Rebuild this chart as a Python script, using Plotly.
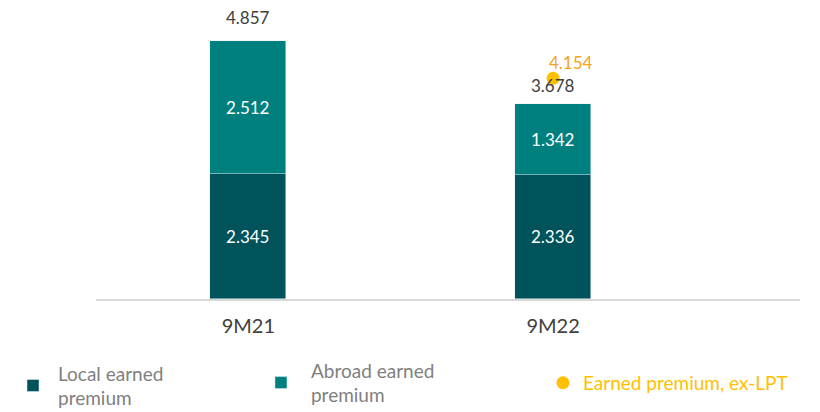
import plotly.graph_objects as go

categories = ["9M21", "9M22"]
local_premium = [2.345, 2.336]
abroad_premium = [2.512, 1.342]
total_premium = [4.857, 3.678]
ex_lpt_cat = ["9M22"]
ex_lpt = [4.154]

FONT = "Lato, 'Open Sans', sans-serif"
DARK = "#00535B"
TEAL = "#007F7F"
GOLD = "#FFC000"

fig = go.Figure()
fig.add_trace(go.Bar(
    x=categories, y=local_premium, name="Local earned<br>premium",
    marker=dict(color=DARK), width=0.25, showlegend=True,
    text=[f"{v:.3f}" for v in local_premium], textposition="inside",
    insidetextanchor="middle", textfont=dict(color="white", size=17, family=FONT),
    legend="legend",
))
fig.add_trace(go.Bar(
    x=categories, y=abroad_premium, name="Abroad earned<br>premium",
    marker=dict(color=TEAL), width=0.25, showlegend=True,
    text=[f"{v:.3f}" for v in abroad_premium], textposition="inside",
    insidetextanchor="middle", textfont=dict(color="white", size=17, family=FONT),
    legend="legend2",
))
fig.add_trace(go.Scatter(
    x=ex_lpt_cat, y=ex_lpt, mode="markers", name="Earned premium, ex-LPT",
    marker=dict(color=GOLD, size=13), showlegend=True,
    legend="legend3", cliponaxis=False,
))

# total labels above the stacks
for cat, tot, shift in zip(categories, total_premium, [23, 18]):
    fig.add_annotation(x=cat, y=tot, text=f"{tot:.3f}", showarrow=False,
                       yanchor="middle", yshift=shift, height=17, borderpad=0,
                       font=dict(color="#404040", size=17, family=FONT))
# ex-LPT label
for cat, v in zip(ex_lpt_cat, ex_lpt):
    fig.add_annotation(x=cat, y=v, text=f"{v:.3f}", showarrow=False,
                       yanchor="middle", yshift=16, xshift=18, height=17, borderpad=0,
                       font=dict(color="#F5A31C", size=17, family=FONT))

leg_common = dict(orientation="v", yanchor="middle", xanchor="left",
                  xref="container", yref="container",
                  font=dict(size=19, color="#808080", family=FONT),
                  bgcolor="rgba(0,0,0,0)", valign="middle")

fig.update_layout(
    width=820, height=412,
    showlegend=True,
    margin=dict(l=88, r=28, t=0, b=121, autoexpand=False),
    paper_bgcolor="white", plot_bgcolor="white",
    barmode="stack", bargap=0,
    font=dict(family=FONT),
    xaxis=dict(type="category", range=[-0.5, 1.81], showgrid=False,
               showline=True, linecolor="#D9D9D9", linewidth=2,
               tickfont=dict(size=20, color="#404040", family=FONT),
               ticks="", ticklabelstandoff=8),
    yaxis=dict(range=[0, 5.478], visible=False),
    legend=dict(x=0.0, y=0.083, itemwidth=40, **leg_common),
    legend2=dict(x=0.2963, y=0.09, itemwidth=50, **leg_common),
    legend3=dict(x=0.6524, y=0.09, **{**leg_common, "font": dict(size=19, color=GOLD, family=FONT)}),
)

fig.write_html("out.html")
